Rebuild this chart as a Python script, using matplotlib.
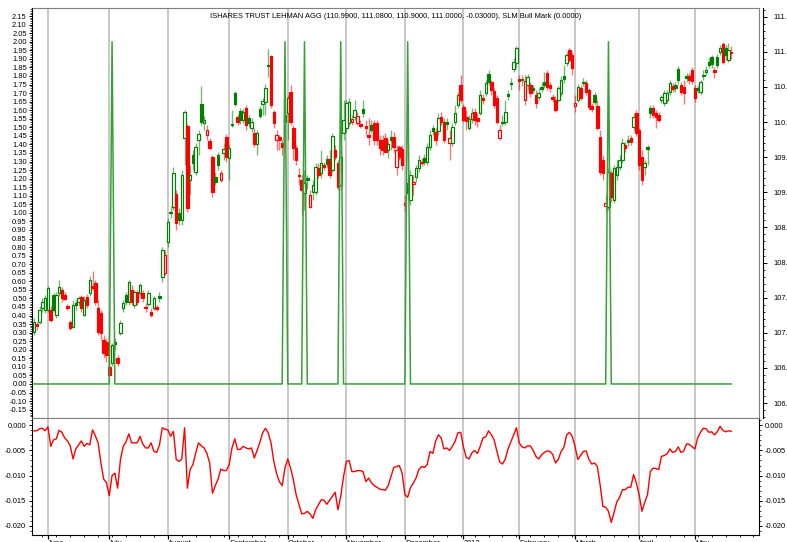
import numpy as np
import matplotlib

matplotlib.use("Agg")
import matplotlib.pyplot as plt
from matplotlib.ticker import MultipleLocator, FixedLocator, FuncFormatter

plt.rcParams["font.family"] = ["Liberation Sans", "DejaVu Sans"]

TITLE = ("ISHARES TRUST LEHMAN AGG (110.9900, 111.0800, 110.9000, 111.0000, -0.03000), "
         "SLM Bull Mark (0.0000)")

# daily OHLC of AGG (one entry per trading day)
opens = [
    107.01, 107.12, 107.15, 107.35, 107.32, 107.32, 107.32, 107.54, 107.25, 107.56,
    107.61, 107.54, 107.38, 107.15, 107.08, 107.43, 107.44, 107.51, 107.25, 107.51,
    107.56, 107.66, 107.71, 107.35, 107.28, 106.90, 106.87, 106.51, 106.57, 106.87,
    106.64, 107.00, 107.35, 107.54, 107.44, 107.61, 107.39, 107.58, 107.56, 107.56,
    107.37, 107.41, 107.29, 107.35, 107.37, 107.52, 107.79, 107.85, 108.29, 108.72,
    108.79, 108.98, 108.71, 108.61, 109.77, 109.94, 109.17, 109.53, 109.29, 109.75,
    110.26, 109.99, 109.82, 109.73, 109.50, 109.22, 109.53, 109.17, 109.56, 109.79,
    109.49, 109.97, 110.41, 110.07, 110.16, 110.03, 110.20, 110.06, 109.92, 109.84,
    109.69, 110.19, 110.26, 110.29, 110.81, 110.94, 110.14, 109.75, 109.79, 109.70,
    110.10, 110.13, 110.43, 109.92, 109.63, 109.25, 109.17, 108.99, 109.20, 108.79,
    109.00, 109.00, 109.35, 109.27, 109.39, 109.47, 109.47, 109.32, 109.60, 109.42,
    109.10, 109.84, 109.92, 109.99, 110.00, 110.07, 109.99, 109.97, 110.19, 109.94,
    109.82, 109.96, 109.99, 109.99, 109.75, 109.75, 109.77, 109.60, 109.79, 109.79,
    109.36, 109.65, 109.62, 108.82, 109.13, 108.89, 109.12, 109.22, 109.35, 109.43,
    109.49, 109.43, 109.65, 109.92, 109.86, 109.87, 110.07, 110.00, 110.00, 109.70,
    109.70, 110.00, 110.24, 110.53, 110.21, 110.07, 109.92, 110.04, 110.14, 110.06,
    110.13, 110.34, 110.41, 110.69, 110.57, 110.44, 110.34, 109.77, 110.00, 110.00,
    110.40, 110.56, 110.76, 110.84, 110.61, 110.62, 110.32, 110.53, 110.53, 110.49,
    110.39, 110.36, 110.50, 110.57, 110.70, 110.53, 110.36, 110.32, 110.32, 110.41,
    110.65, 110.84, 111.03, 110.96, 110.23, 110.32, 110.49, 110.57, 110.56, 110.46,
    110.23, 110.39, 110.23, 109.79, 109.46, 108.80, 108.79, 109.27, 108.89, 109.25,
    109.36, 109.46, 109.67, 109.75, 109.77, 109.93, 110.13, 109.89, 109.50, 109.36,
    109.65, 110.20, 110.20, 110.13, 110.10, 110.32, 110.27, 110.32, 110.43, 110.51,
    110.53, 110.76, 110.53, 110.50, 110.66, 110.66, 110.74, 110.49, 110.49, 110.43,
    110.67, 110.71, 110.86, 110.93, 110.74, 110.93, 111.00, 111.11, 111.06, 110.89,
    110.99,
]
highs = [
    107.21, 107.15, 107.38, 107.49, 107.54, 107.66, 107.38, 107.56, 107.58, 107.75,
    107.65, 107.58, 107.41, 107.18, 107.47, 107.47, 107.52, 107.54, 107.52, 107.55,
    107.81, 107.88, 107.75, 107.47, 107.32, 106.97, 106.92, 106.61, 106.85, 106.92,
    106.68, 107.18, 107.47, 107.58, 107.75, 107.68, 107.61, 107.61, 107.71, 107.61,
    107.42, 107.61, 107.35, 107.52, 107.39, 107.58, 108.22, 108.18, 108.63, 108.80,
    109.36, 109.03, 108.78, 109.32, 110.17, 109.97, 109.39, 109.60, 109.70, 109.89,
    110.51, 110.09, 109.96, 109.77, 109.53, 109.29, 109.57, 109.32, 109.70, 109.83,
    109.67, 110.17, 110.44, 110.12, 110.20, 110.19, 110.24, 110.10, 110.06, 109.92,
    109.89, 110.23, 110.34, 110.54, 111.04, 110.96, 110.17, 109.89, 109.82, 109.75,
    110.17, 110.39, 110.53, 109.96, 109.67, 109.35, 109.25, 109.32, 109.25, 109.03,
    109.17, 109.42, 109.42, 109.60, 109.43, 109.53, 109.60, 109.84, 109.67, 109.46,
    109.60, 110.32, 110.32, 110.34, 110.10, 110.32, 110.14, 110.03, 110.32, 110.03,
    110.06, 110.03, 110.03, 110.03, 109.82, 109.82, 109.84, 109.75, 109.89, 109.86,
    109.67, 109.67, 109.67, 108.96, 109.20, 109.32, 109.25, 109.39, 109.53, 109.49,
    109.55, 109.70, 109.89, 109.96, 109.92, 110.13, 110.14, 110.06, 110.06, 109.89,
    109.99, 110.24, 110.43, 110.67, 110.26, 110.17, 110.10, 110.20, 110.20, 110.13,
    110.46, 110.40, 110.60, 110.74, 110.60, 110.49, 110.39, 109.96, 110.10, 110.32,
    110.46, 110.63, 110.91, 111.08, 110.67, 110.67, 110.67, 110.69, 110.57, 110.53,
    110.46, 110.49, 110.57, 110.71, 110.74, 110.57, 110.40, 110.37, 110.51, 110.66,
    110.81, 111.00, 111.06, 111.00, 110.39, 110.54, 110.53, 110.63, 110.60, 110.49,
    110.27, 110.43, 110.32, 109.89, 109.53, 108.96, 109.35, 109.32, 109.39, 109.46,
    109.53, 109.77, 109.72, 109.82, 109.82, 110.13, 110.17, 109.92, 109.60, 109.46,
    109.67, 110.24, 110.24, 110.17, 110.14, 110.39, 110.46, 110.46, 110.60, 110.56,
    110.57, 110.80, 110.57, 110.60, 110.70, 110.70, 110.79, 110.53, 110.53, 110.60,
    110.74, 110.80, 110.91, 110.96, 110.79, 110.97, 111.10, 111.14, 111.10, 111.13,
    111.08,
]
lows = [
    106.97, 107.04, 107.12, 107.29, 107.28, 107.29, 107.15, 107.29, 107.21, 107.52,
    107.44, 107.47, 107.32, 107.04, 107.07, 107.32, 107.38, 107.29, 107.24, 107.35,
    107.52, 107.61, 107.39, 106.97, 106.90, 106.64, 106.58, 106.38, 106.53, 106.75,
    106.53, 106.97, 107.29, 107.39, 107.39, 107.39, 107.35, 107.39, 107.52, 107.44,
    107.29, 107.38, 107.22, 107.32, 107.31, 107.44, 107.72, 107.82, 108.22, 108.63,
    108.75, 108.46, 108.53, 108.53, 109.39, 108.72, 108.96, 109.32, 109.25, 109.53,
    109.96, 109.89, 109.75, 109.60, 108.93, 109.10, 109.32, 109.15, 109.46, 109.43,
    109.17, 109.93, 110.23, 109.96, 109.97, 109.99, 109.89, 109.93, 109.86, 109.65,
    109.53, 110.06, 110.10, 110.10, 110.64, 110.20, 109.92, 109.60, 109.60, 109.53,
    109.75, 109.75, 109.96, 109.46, 109.39, 109.10, 108.68, 108.75, 109.05, 108.78,
    108.89, 108.96, 109.20, 109.20, 109.32, 109.35, 109.20, 109.29, 109.46, 109.03,
    109.03, 109.75, 109.86, 109.94, 109.96, 110.03, 109.96, 109.92, 110.07, 109.82,
    109.67, 109.84, 109.67, 109.67, 109.53, 109.53, 109.57, 109.49, 109.60, 109.57,
    109.25, 109.46, 109.32, 108.72, 108.89, 108.82, 108.96, 109.15, 109.29, 109.37,
    109.39, 109.39, 109.60, 109.82, 109.67, 109.82, 109.96, 109.70, 109.89, 109.46,
    109.66, 109.96, 110.20, 110.27, 110.00, 109.89, 109.89, 109.99, 109.96, 109.93,
    110.10, 110.26, 110.37, 110.53, 110.39, 110.20, 109.97, 109.75, 109.94, 109.96,
    110.32, 110.46, 110.71, 110.77, 110.46, 110.51, 110.24, 110.46, 110.36, 110.41,
    110.20, 110.32, 110.43, 110.49, 110.46, 110.43, 110.29, 110.14, 110.29, 110.37,
    110.56, 110.80, 110.86, 110.67, 110.14, 110.29, 110.32, 110.51, 110.39, 110.17,
    110.14, 110.24, 109.89, 109.25, 109.17, 108.72, 108.75, 108.86, 108.85, 109.17,
    109.32, 109.42, 109.57, 109.66, 109.67, 109.89, 109.80, 109.32, 109.10, 109.25,
    109.39, 110.06, 110.06, 109.92, 110.00, 110.27, 110.23, 110.27, 110.39, 110.43,
    110.43, 110.54, 110.39, 110.26, 110.57, 110.54, 110.54, 110.29, 110.41, 110.39,
    110.60, 110.67, 110.77, 110.77, 110.63, 110.77, 110.96, 110.83, 110.89, 110.86,
    110.90,
]
closes = [
    107.15, 107.10, 107.32, 107.44, 107.49, 107.64, 107.18, 107.32, 107.54, 107.65,
    107.49, 107.48, 107.35, 107.07, 107.39, 107.40, 107.49, 107.35, 107.47, 107.39,
    107.75, 107.64, 107.44, 107.01, 107.00, 106.71, 106.68, 106.40, 106.82, 106.84,
    106.57, 107.14, 107.42, 107.44, 107.72, 107.44, 107.58, 107.44, 107.68, 107.49,
    107.35, 107.56, 107.25, 107.49, 107.34, 107.49, 108.18, 108.11, 108.58, 108.71,
    109.27, 108.56, 108.61, 109.25, 110.14, 108.78, 109.25, 109.42, 109.65, 109.83,
    110.00, 110.03, 109.89, 109.63, 109.00, 109.15, 109.39, 109.27, 109.62, 109.50,
    109.63, 109.96, 110.26, 110.00, 110.03, 110.14, 109.96, 109.99, 110.00, 109.69,
    109.84, 110.09, 110.30, 110.49, 110.80, 110.24, 109.99, 109.82, 109.75, 109.65,
    110.00, 110.34, 110.00, 109.63, 109.46, 109.23, 109.03, 109.13, 109.17, 108.96,
    109.10, 109.36, 109.25, 109.42, 109.36, 109.40, 109.25, 109.80, 109.50, 109.07,
    109.50, 110.03, 110.27, 110.28, 110.04, 110.17, 110.09, 109.94, 110.13, 109.92,
    109.79, 109.89, 109.75, 109.74, 109.63, 109.60, 109.58, 109.69, 109.75, 109.65,
    109.60, 109.50, 109.39, 108.85, 108.99, 109.25, 109.15, 109.35, 109.46, 109.42,
    109.43, 109.65, 109.82, 109.87, 109.75, 110.06, 110.00, 109.75, 109.97, 109.77,
    109.93, 110.13, 110.39, 110.32, 110.03, 110.02, 110.04, 110.13, 110.03, 110.02,
    110.39, 110.32, 110.56, 110.57, 110.46, 110.24, 110.00, 109.89, 109.99, 110.14,
    110.37, 110.54, 110.86, 111.06, 110.59, 110.60, 110.58, 110.64, 110.41, 110.46,
    110.27, 110.41, 110.47, 110.53, 110.50, 110.49, 110.33, 110.17, 110.49, 110.60,
    110.61, 110.96, 110.89, 110.77, 110.27, 110.50, 110.34, 110.56, 110.43, 110.21,
    110.19, 110.29, 109.92, 109.29, 109.27, 108.85, 109.29, 108.93, 109.35, 109.36,
    109.46, 109.70, 109.63, 109.72, 109.71, 110.07, 109.84, 109.39, 109.17, 109.42,
    109.62, 110.13, 110.10, 110.07, 110.03, 110.36, 110.41, 110.42, 110.56, 110.47,
    110.49, 110.60, 110.43, 110.42, 110.63, 110.60, 110.59, 110.34, 110.46, 110.57,
    110.66, 110.74, 110.81, 110.82, 110.71, 110.81, 111.06, 110.86, 110.96, 111.03,
    111.00,
]

# SLM Bull Mark: 0 every day except these days, where it reads 2
bull_mark_days = [28, 90, 97, 110, 134, 206]
bull_mark_level = 2.0

# lower panel oscillator, one value per trading day
oscillator = [
    -0.0011, -0.0011, -0.0007, -0.0006, -0.0011, -0.0003, -0.0042, -0.0029, -0.0027, -0.0010,
    -0.0014, -0.0025, -0.0031, -0.0041, -0.0067, -0.0047, -0.0039, -0.0031, -0.0042, -0.0036,
    -0.0039, -0.0009, -0.0021, -0.0035, -0.0075, -0.0107, -0.0114, -0.0140, -0.0100, -0.0095,
    -0.0125, -0.0068, -0.0042, -0.0033, -0.0017, -0.0035, -0.0035, -0.0035, -0.0022, -0.0037,
    -0.0045, -0.0045, -0.0035, -0.0052, -0.0054, -0.0039, -0.0005, -0.0008, -0.0009, -0.0022,
    -0.0012, -0.0068, -0.0072, -0.0067, -0.0005, -0.0125, -0.0088, -0.0078, -0.0055, -0.0035,
    -0.0041, -0.0045, -0.0056, -0.0075, -0.0135, -0.0120, -0.0107, -0.0087, -0.0090, -0.0090,
    -0.0078, -0.0045, -0.0027, -0.0048, -0.0048, -0.0042, -0.0045, -0.0047, -0.0045, -0.0065,
    -0.0050, -0.0034, -0.0015, -0.0006, -0.0015, -0.0035, -0.0072, -0.0096, -0.0112, -0.0120,
    -0.0085, -0.0067, -0.0085, -0.0108, -0.0138, -0.0157, -0.0176, -0.0175, -0.0171, -0.0176,
    -0.0185, -0.0168, -0.0158, -0.0148, -0.0149, -0.0157, -0.0149, -0.0141, -0.0133, -0.0168,
    -0.0141, -0.0102, -0.0072, -0.0070, -0.0092, -0.0092, -0.0090, -0.0090, -0.0092, -0.0112,
    -0.0105, -0.0114, -0.0120, -0.0123, -0.0127, -0.0128, -0.0129, -0.0120, -0.0102, -0.0084,
    -0.0082, -0.0080, -0.0095, -0.0138, -0.0143, -0.0124, -0.0115, -0.0105, -0.0088, -0.0082,
    -0.0084, -0.0078, -0.0052, -0.0056, -0.0032, -0.0019, -0.0025, -0.0047, -0.0045, -0.0050,
    -0.0042, -0.0032, -0.0015, -0.0014, -0.0043, -0.0064, -0.0067, -0.0055, -0.0050, -0.0056,
    -0.0042, -0.0025, -0.0023, -0.0011, -0.0019, -0.0029, -0.0052, -0.0073, -0.0077, -0.0067,
    -0.0047, -0.0033, -0.0019, -0.0005, -0.0035, -0.0043, -0.0045, -0.0041, -0.0041, -0.0050,
    -0.0062, -0.0067, -0.0059, -0.0054, -0.0051, -0.0052, -0.0058, -0.0075, -0.0068, -0.0052,
    -0.0044, -0.0019, -0.0014, -0.0022, -0.0042, -0.0068, -0.0060, -0.0052, -0.0051, -0.0068,
    -0.0077, -0.0075, -0.0082, -0.0118, -0.0161, -0.0163, -0.0171, -0.0193, -0.0173, -0.0152,
    -0.0143, -0.0128, -0.0128, -0.0123, -0.0123, -0.0098, -0.0115, -0.0138, -0.0171, -0.0153,
    -0.0138, -0.0092, -0.0085, -0.0086, -0.0088, -0.0062, -0.0060, -0.0057, -0.0047, -0.0054,
    -0.0052, -0.0043, -0.0054, -0.0051, -0.0037, -0.0038, -0.0043, -0.0047, -0.0025, -0.0014,
    -0.0006, -0.0007, -0.0014, -0.0013, -0.0019, -0.0013, -0.0002, -0.0010, -0.0013, -0.0011,
    -0.0012,
]

month_labels = ["June", "July", "August", "September", "October", "November",
                "December", "2013", "February", "March", "April", "May"]
month_first_day = [5, 27, 48, 70, 91, 112, 133, 154, 174, 194, 217, 237]

GREEN = "#008000"
RED = "#ff0000"
GRID = "#c8c8c8"
FRAME = "#808080"
FS = 5.4

o = np.asarray(opens)
h = np.asarray(highs)
lo = np.asarray(lows)
c = np.asarray(closes)
n = len(c)
x = np.arange(n)

prev_close = np.r_[o[0], c[:-1]]
colors = np.where(c >= prev_close, GREEN, RED)
faces = np.where(c > o, "white", colors)

bull = np.zeros(n)
bull[bull_mark_days] = bull_mark_level

fig = plt.figure(figsize=(7.87, 5.42), dpi=100)
ax = fig.add_axes([0.0407, 0.2297, 0.9231, 0.7555])
ax_bull = ax.twinx()
ax_osc = fig.add_axes([0.0407, 0.0129, 0.9231, 0.2168], sharex=ax)

for a in (ax, ax_osc):
    for m in month_first_day:
        a.axvline(m, color=GRID, lw=1.4, zorder=0)

# candles on the price scale (right axis)
ax.vlines(x, lo, h, colors=colors, lw=1.0, alpha=0.55, zorder=2)
body_low = np.minimum(o, c)
body_h = np.maximum(np.abs(c - o), 0.014)
ax.bar(x, body_h, 0.9, bottom=body_low, color=faces, edgecolor=colors,
       linewidth=0.85, zorder=3)
ax.set_ylim(105.794, 111.624)
ax.yaxis.tick_right()
ax.yaxis.set_major_locator(MultipleLocator(0.5))
ax.yaxis.set_minor_locator(MultipleLocator(0.1))
ax.yaxis.set_major_formatter(FuncFormatter(lambda v, p: f"{v:.2f}"))
ax.spines["right"].set_position(("outward", 3.2))
ax.spines["left"].set_visible(False)
ax.spines["top"].set_color(FRAME)
ax.spines["bottom"].set_color(FRAME)
ax.tick_params(axis="y", which="major", length=2.8, width=0.7, pad=4.6, labelsize=FS)
ax.tick_params(axis="y", which="minor", length=1.4, width=0.6)
ax.tick_params(axis="x", which="both", bottom=False, top=False, labelbottom=False)

# bull mark on the left scale
ax_bull.plot(x, bull, color="#37a037", lw=1.1, zorder=4)
ax_bull.set_ylim(-0.196, 2.197)
ax_bull.yaxis.tick_left()
ax_bull.yaxis.set_major_locator(MultipleLocator(0.05))
ax_bull.yaxis.set_minor_locator(MultipleLocator(0.01))
ax_bull.yaxis.set_major_formatter(FuncFormatter(lambda v, p: f"{v:.2f}".replace("-0.00", "0.00")))
ax_bull.spines["right"].set_color(FRAME)
ax_bull.spines["top"].set_visible(False)
ax_bull.spines["bottom"].set_visible(False)
ax_bull.tick_params(axis="y", which="major", length=2.2, width=0.7, pad=1.6, labelsize=FS)
ax_bull.tick_params(axis="y", which="minor", length=1.2, width=0.5)

ax.text(0.5, 0.979, TITLE, transform=ax.transAxes, ha="center", va="center",
        fontsize=FS, zorder=6)

# oscillator panel
ax_osc.plot(x, oscillator, color=RED, lw=1.0)
ax_osc.set_ylim(-0.0218, 0.00154)
ax_osc.set_xlim(-0.7, 259.8)
ax_osc.yaxis.set_major_locator(MultipleLocator(0.005))
ax_osc.yaxis.set_minor_locator(MultipleLocator(0.001))
ax_osc.yaxis.set_major_formatter(FuncFormatter(lambda v, p: f"{v:.3f}".replace("-0.000", "0.000")))
ax_osc.tick_params(axis="y", which="both", left=True, right=True, labelleft=True,
                   labelright=True)
ax_osc.tick_params(axis="y", which="major", length=2.2, width=0.7, pad=2.2, labelsize=FS)
ax_osc.tick_params(axis="y", which="minor", length=1.2, width=0.5)
ax_osc.spines["top"].set_color(FRAME)

ax_osc.xaxis.set_major_locator(FixedLocator(month_first_day))
ax_osc.xaxis.set_minor_locator(FixedLocator(np.arange(3, 260, 5)))
ax_osc.set_xticklabels(month_labels, ha="left")
ax_osc.tick_params(axis="x", which="major", length=2.8, width=0.9, pad=0.8, labelsize=FS)
ax_osc.tick_params(axis="x", which="minor", length=1.6, width=0.6)
ax.tick_params(axis="x", which="both", bottom=False, top=False, labelbottom=False)

fig.savefig("out.png", dpi=100)
plt.close(fig)
